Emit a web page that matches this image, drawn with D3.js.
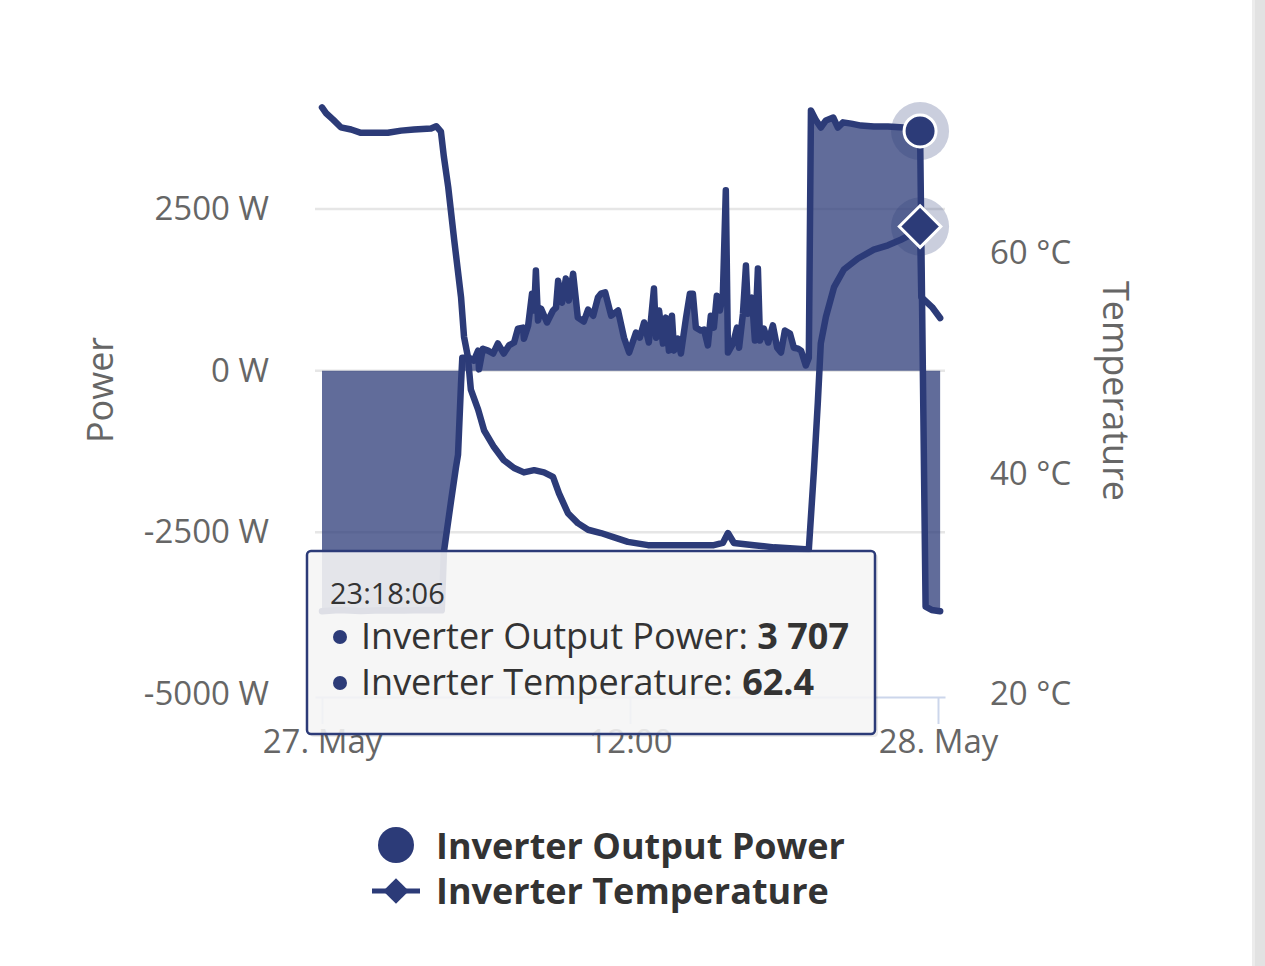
<!DOCTYPE html>
<html>
<head>
<meta charset="utf-8">
<script src="https://cdn.jsdelivr.net/npm/d3@7"></script>
<style>
  body { margin: 0; background: #fff; }
  text { font-family: "Open Sans", sans-serif; }
</style>
</head>
<body>
<svg width="1265" height="966"></svg>
<script>
// readings, times on 27 May ("24:05" spills into 28 May)
const powerData = [
  ["00:00", -3720], ["00:40", -3700], ["01:30", -3715], ["02:20", -3705], ["03:10", -3710],
  ["04:00", -3700], ["04:40", -3705], ["04:45", -2800], ["05:02", -2000], ["05:13", -1500],
  ["05:18", -1300], ["05:25", -200], ["05:28", 200], ["05:44", 200], ["05:55", 155],
  ["06:05", 310], ["06:07", 20], ["06:16", 340], ["06:28", 310], ["06:40", 265],
  ["06:51", 420], ["07:05", 265], ["07:17", 390], ["07:29", 435], ["07:38", 650],
  ["07:50", 665], ["07:52", 495], ["08:02", 700], ["08:11", 1190], ["08:16", 930],
  ["08:20", 1550], ["08:25", 775], ["08:32", 960], ["08:46", 745], ["09:00", 930],
  ["09:07", 975], ["09:12", 1390], ["09:21", 1050], ["09:30", 1425], ["09:37", 1085],
  ["09:47", 1500], ["09:58", 820], ["10:12", 760], ["10:22", 945], ["10:34", 850],
  ["10:45", 1130], ["10:52", 1190], ["11:02", 1210], ["11:16", 850], ["11:32", 930],
  ["11:46", 510], ["11:58", 280], ["12:14", 590], ["12:23", 510], ["12:33", 745],
  ["12:44", 435], ["12:56", 1270], ["13:01", 510], ["13:08", 930], ["13:17", 420],
  ["13:24", 820], ["13:31", 310], ["13:38", 850], ["13:43", 310], ["13:52", 495],
  ["13:59", 265], ["14:11", 820], ["14:20", 1190], ["14:27", 1190], ["14:34", 665],
  ["14:46", 620], ["14:53", 635], ["15:02", 390], ["15:09", 850], ["15:16", 665],
  ["15:23", 1160], ["15:30", 930], ["15:37", 1160], ["15:44", 2790], ["15:49", 280],
  ["16:01", 420], ["16:10", 665], ["16:15", 355], ["16:24", 880], ["16:31", 1625],
  ["16:36", 880], ["16:45", 1130], ["16:52", 465], ["16:59", 1580], ["17:04", 465],
  ["17:13", 650], ["17:23", 435], ["17:34", 700], ["17:44", 355], ["17:53", 280],
  ["18:02", 620], ["18:14", 575], ["18:23", 355], ["18:33", 340], ["18:40", 310],
  ["18:51", 80], ["18:58", 200], ["19:03", 4025], ["19:15", 3870], ["19:26", 3760],
  ["19:38", 3870], ["19:55", 3915], ["20:06", 3760], ["20:18", 3840], ["20:37", 3820],
  ["21:00", 3790], ["21:30", 3775], ["22:03", 3775], ["22:40", 3760], ["23:18:06", 3707],
  ["23:31", -3650], ["23:45", -3700], ["24:05", -3720]
];

const tempData = [
  ["00:00", 73.2], ["00:09", 72.7], ["00:26", 72.1], ["00:44", 71.4], ["01:08", 71.2],
  ["01:31", 70.9], ["02:02", 70.9], ["02:34", 70.9], ["03:05", 71.1], ["03:35", 71.2],
  ["04:15", 71.3], ["04:27", 71.5], ["04:38", 71.0], ["04:45", 68.7], ["04:55", 66.0],
  ["05:09", 61.2], ["05:25", 56.0], ["05:32", 52.4], ["05:41", 50.6], ["05:48", 47.6],
  ["06:05", 45.8], ["06:19", 43.9], ["06:42", 42.4], ["07:05", 41.2], ["07:29", 40.5],
  ["07:52", 40.1], ["08:16", 40.3], ["08:39", 40.1], ["09:00", 39.7], ["09:14", 38.2],
  ["09:35", 36.4], ["09:58", 35.5], ["10:22", 34.9], ["10:52", 34.6], ["11:23", 34.2],
  ["11:55", 33.8], ["12:42", 33.5], ["13:43", 33.5], ["14:30", 33.5], ["15:16", 33.5],
  ["15:37", 33.7], ["15:49", 34.6], ["16:03", 33.7], ["16:50", 33.5], ["17:37", 33.3],
  ["18:23", 33.2], ["18:58", 33.1], ["19:10", 40.3], ["19:19", 46.4], ["19:26", 51.8],
  ["19:38", 54.2], ["19:57", 56.9], ["20:20", 58.5], ["20:53", 59.5], ["21:30", 60.3],
  ["22:03", 60.7], ["22:33", 61.2], ["23:04", 61.8], ["23:18:06", 62.4], ["23:21", 56.0],
  ["23:46", 55.1], ["24:05", 54.1]
];

const powerTicks = [-5000, -2500, 0, 2500];
const tempTicks = [20, 40, 60];
const timeTicks = ["00:00", "12:00", "24:00"];
const hoverTime = "23:18:06";
const seriesNames = ["Inverter Output Power", "Inverter Temperature"];

const color = "#2c3b78";

function parseTime(t) {
  const [h, m, s = 0] = t.split(":").map(Number);
  return new Date(2023, 4, 27, h, m, s);
}

function loaded() {
  const svg = d3.select("svg");
  const plot = { left: 315, right: 945, top: 90, bottom: 694 };

  const x0 = d3.scaleTime()
    .domain([parseTime("00:00"), parseTime("24:00")])
    .range([322, 938]);
  const x = d3.scaleTime()
    .domain([x0.invert(plot.left), x0.invert(plot.right)])
    .range([plot.left, plot.right]);
  const yP = d3.scaleLinear().domain([-5000, 2500]).range([694, 209]);
  const yT = d3.scaleLinear().domain([20, 60]).range([694, 253]);

  const power = powerData.map(([t, v]) => ({ t: parseTime(t), v }));
  const temp = tempData.map(([t, v]) => ({ t: parseTime(t), v }));

  // grid
  svg.append("g")
    .selectAll("line")
    .data(powerTicks.filter((d) => d !== -5000))
    .enter()
    .append("line")
    .attr("x1", plot.left)
    .attr("x2", plot.right)
    .attr("y1", (d) => yP(d))
    .attr("y2", (d) => yP(d))
    .attr("stroke", "#e6e6e6")
    .attr("stroke-width", 2.5);

  // x axis
  const xAxis = svg.append("g")
    .attr("transform", `translate(0,${plot.bottom + 3})`)
    .call(d3.axisBottom(x)
      .tickValues(timeTicks.map(parseTime))
      .tickSize(27)
      .tickSizeOuter(0)
      .tickPadding(6)
      .tickFormat((d) => d.getHours() === 0 ? d3.timeFormat("%-d. %b")(d) : d3.timeFormat("%H:%M")(d)));
  xAxis.select(".domain").attr("stroke", "#ccd6eb").attr("stroke-width", 2);
  xAxis.selectAll(".tick line").attr("stroke", "#ccd6eb").attr("stroke-width", 2);
  xAxis.selectAll("text").attr("fill", "#666").style("font-size", "33px");

  // left axis
  const yAxisL = svg.append("g")
    .attr("transform", `translate(${plot.left},0)`)
    .call(d3.axisLeft(yP).tickValues(powerTicks).tickSize(0).tickPadding(46)
      .tickFormat((d) => `${d} W`));
  yAxisL.select(".domain").remove();
  yAxisL.selectAll("text").attr("fill", "#666").style("font-size", "33px");

  // right axis
  const yAxisR = svg.append("g")
    .attr("transform", `translate(${plot.right},0)`)
    .call(d3.axisRight(yT).tickValues(tempTicks).tickSize(0).tickPadding(45)
      .tickFormat((d) => `${d} °C`));
  yAxisR.select(".domain").remove();
  yAxisR.selectAll("text").attr("fill", "#666").style("font-size", "33px");

  // axis titles
  svg.append("text")
    .attr("transform", `translate(113,390) rotate(-90)`)
    .attr("text-anchor", "middle")
    .attr("fill", "#666")
    .style("font-size", "36px")
    .text("Power");
  svg.append("text")
    .attr("transform", `translate(1103,391) rotate(90)`)
    .attr("text-anchor", "middle")
    .attr("fill", "#666")
    .style("font-size", "36px")
    .text("Temperature");

  // power area + line
  svg.append("path")
    .datum(power)
    .attr("fill", color)
    .attr("fill-opacity", 0.75)
    .attr("d", d3.area().x((d) => x(d.t)).y0(yP(0)).y1((d) => yP(d.v)));
  svg.append("path")
    .datum(power)
    .attr("fill", "none")
    .attr("stroke", color)
    .attr("stroke-width", 6.5)
    .attr("stroke-linejoin", "round")
    .attr("stroke-linecap", "round")
    .attr("d", d3.line().x((d) => x(d.t)).y((d) => yP(d.v)));

  // temperature line
  svg.append("path")
    .datum(temp)
    .attr("fill", "none")
    .attr("stroke", color)
    .attr("stroke-width", 6.5)
    .attr("stroke-linejoin", "round")
    .attr("stroke-linecap", "round")
    .attr("d", d3.line().x((d) => x(d.t)).y((d) => yT(d.v)));

  // hover markers
  const ht = parseTime(hoverTime);
  const hp = power.find((d) => +d.t === +ht);
  const htp = temp.find((d) => +d.t === +ht);
  const hx = x(ht);

  svg.append("circle")
    .attr("cx", hx).attr("cy", yP(hp.v)).attr("r", 29)
    .attr("fill", color).attr("fill-opacity", 0.25);
  svg.append("circle")
    .attr("cx", hx).attr("cy", yP(hp.v)).attr("r", 16)
    .attr("fill", color).attr("stroke", "#fff").attr("stroke-width", 3);
  svg.append("circle")
    .attr("cx", hx).attr("cy", yT(htp.v)).attr("r", 29)
    .attr("fill", color).attr("fill-opacity", 0.25);
  svg.append("path")
    .attr("transform", `translate(${hx},${yT(htp.v)})`)
    .attr("d", d3.symbol().type(d3.symbolDiamond2).size(1100))
    .attr("fill", color).attr("stroke", "#fff").attr("stroke-width", 3);

  // tooltip
  const fmt = d3.formatLocale({ decimal: ".", thousands: " ", grouping: [3], currency: ["", ""] });
  const tip = svg.append("g").attr("transform", "translate(307,551)");
  tip.append("rect")
    .attr("x", 3).attr("y", 3).attr("width", 568).attr("height", 183).attr("rx", 4)
    .attr("fill", "#000").attr("fill-opacity", 0.08);
  tip.append("rect")
    .attr("width", 568).attr("height", 183).attr("rx", 4)
    .attr("fill", "#f7f7f7").attr("fill-opacity", 0.88)
    .attr("stroke", color).attr("stroke-width", 2.5);
  tip.append("text")
    .attr("x", 23).attr("y", 53)
    .attr("fill", "#333")
    .style("font-size", "29px")
    .text(d3.timeFormat("%H:%M:%S")(ht));
  const rows = [
    { name: seriesNames[0], value: fmt.format(",d")(hp.v) },
    { name: seriesNames[1], value: htp.v.toFixed(1) }
  ];
  rows.forEach((r, i) => {
    const yy = 98 + i * 46;
    tip.append("circle").attr("cx", 33).attr("cy", yy - 12).attr("r", 7).attr("fill", color);
    const t = tip.append("text")
      .attr("x", 54).attr("y", yy)
      .attr("fill", "#333")
      .style("font-size", "36px");
    t.append("tspan").text(`${r.name}: `);
    t.append("tspan").attr("font-weight", "bold").text(r.value);
  });

  // legend
  const legend = svg.append("g");
  legend.append("circle").attr("cx", 396).attr("cy", 845).attr("r", 18).attr("fill", color);
  legend.append("line")
    .attr("x1", 372).attr("x2", 420).attr("y1", 891).attr("y2", 891)
    .attr("stroke", color).attr("stroke-width", 5);
  legend.append("path")
    .attr("transform", "translate(396,891)")
    .attr("d", d3.symbol().type(d3.symbolDiamond2).size(420))
    .attr("fill", color);
  legend.selectAll(".lt")
    .data(seriesNames)
    .enter()
    .append("text")
    .attr("x", 436)
    .attr("y", (d, i) => 859 + i * 45)
    .attr("fill", "#333")
    .attr("font-weight", "bold")
    .style("font-size", "36px")
    .text((d) => d);

  // page edge strip on the right
  svg.append("rect").attr("x", 1252).attr("y", 0).attr("width", 3).attr("height", 966).attr("fill", "#ececec");
  svg.append("rect").attr("x", 1255).attr("y", 0).attr("width", 10).attr("height", 966).attr("fill", "#e2e2e2");
}

loaded();
</script>
</body>
</html>
